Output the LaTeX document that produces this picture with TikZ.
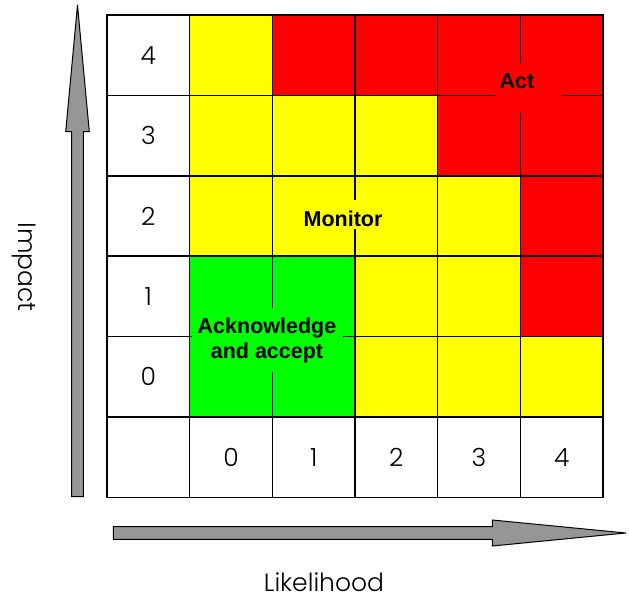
\documentclass[tikz,border=0pt]{standalone}
\usepackage{fontspec}
\setmainfont{Liberation Sans}
\newfontfamily\thinfont{Poppins Light}
\definecolor{arrowgray}{RGB}{150,150,150}
\definecolor{cy}{RGB}{255,255,0}
\definecolor{cr}{RGB}{255,0,0}
\definecolor{cg}{RGB}{0,255,0}
\begin{document}
\begin{tikzpicture}[x=1pt,y=-1pt,
  cell/.style={draw=black, line width=1.6pt, minimum width=82.67pt, minimum height=80.42pt,
    inner sep=0pt, outer sep=0pt, font=\thinfont\fontsize{25}{28}\selectfont},
  bigarrow/.style={draw=black, line width=1pt, fill=arrowgray, line join=miter},
  lbl/.style={font=\bfseries\fontsize{21.5}{25}\selectfont, inner sep=0pt, align=center},
  axis/.style={font=\thinfont\fontsize{25}{30}\selectfont, inner sep=0pt}]
\useasboundingbox (0,0) rectangle (629,600);
% cells: column c (0..5), row r (0..5 from top)
\foreach \c/\r/\col/\t in {
  0/0/white/4, 1/0/cy/, 2/0/cr/, 3/0/cr/, 4/0/cr/, 5/0/cr/,
  0/1/white/3, 1/1/cy/, 2/1/cy/, 3/1/cy/, 4/1/cr/, 5/1/cr/,
  0/2/white/2, 1/2/cy/, 2/2/cy/, 3/2/cy/, 4/2/cy/, 5/2/cr/,
  0/3/white/1, 1/3/cg/, 2/3/cg/, 3/3/cy/, 4/3/cy/, 5/3/cr/,
  0/4/white/0, 1/4/cg/, 2/4/cg/, 3/4/cy/, 4/4/cy/, 5/4/cy/,
  0/5/white/, 1/5/white/0, 2/5/white/1, 3/5/white/2, 4/5/white/3, 5/5/white/4}
  \node[cell, fill=\col] (c-\c-\r) at ({107+(\c+0.5)*82.67},{15+(\r+0.5)*80.42}) {\raisebox{-2pt}{\t}};
% label backgrounds hiding grid lines
\fill[cr] (495,63) rectangle (562,113);
\fill[cy] (300,200) rectangle (388,229);
\fill[cg] (192,308) rectangle (343,372);
% labels
\node[lbl] (act) at (517,81) {Act};
\node[lbl] (monitor) at (343,219) {Monitor};
\node[lbl] (ack) at (267,340) {Acknowledge\\and accept};
% arrows
\draw[bigarrow] (71.7,496.7) -- (71.7,131.7) -- (65.7,131.7) -- (77.5,5) -- (89.3,131.7) -- (83.3,131.7) -- (83.3,496.7) -- cycle;
\draw[bigarrow] (113.3,526.7) -- (492.3,526.7) -- (492.3,520) -- (625.7,533) -- (492.3,546) -- (492.3,539.3) -- (113.3,539.3) -- cycle;
% axis titles
\node[axis] (likelihood) at (324,582) {Likelihood};
\node[axis, rotate=-90] (impact) at (24,267) {Impact};
\end{tikzpicture}
\end{document}
